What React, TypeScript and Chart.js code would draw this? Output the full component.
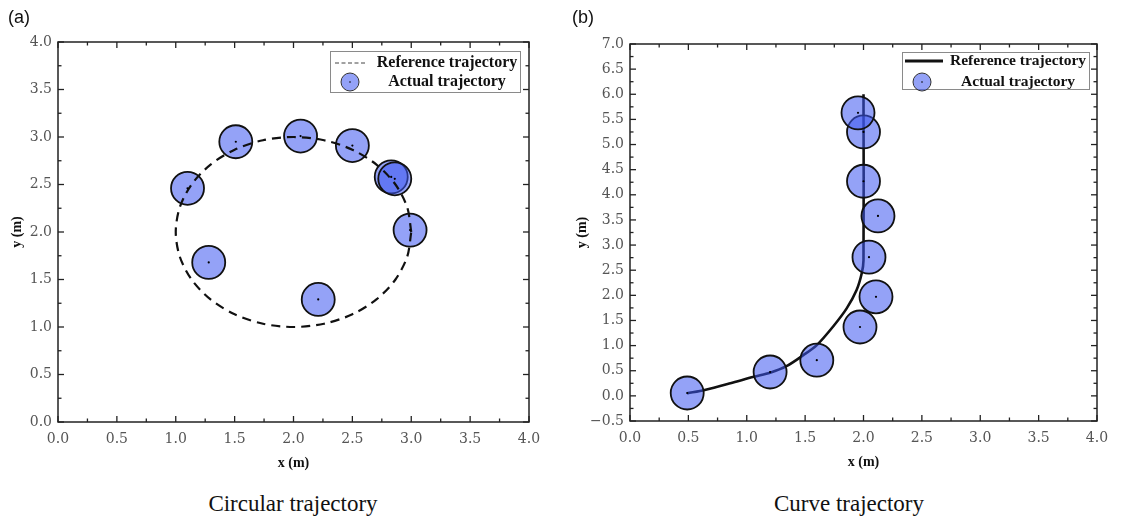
import React, { useEffect, useRef } from "react";
import { Chart, registerables } from "chart.js";
Chart.register(...registerables);
Chart.defaults.font.family = "'DejaVu Serif', 'Liberation Serif', serif";

// ---------- Data (a) Circular trajectory ----------
const circRefX = [3, 2.966, 2.866, 2.707, 2.5, 2.259, 2, 1.741, 1.5, 1.293, 1.134, 1.034, 1, 1.034, 1.134, 1.293, 1.5, 1.741, 2, 2.259, 2.5, 2.707, 2.866, 2.966, 3];
const circRefY = [2, 2.259, 2.5, 2.707, 2.866, 2.966, 3, 2.966, 2.866, 2.707, 2.5, 2.259, 2, 1.741, 1.5, 1.293, 1.134, 1.034, 1, 1.034, 1.134, 1.293, 1.5, 1.741, 2];
const circActX = [1.1, 1.51, 2.06, 2.5, 2.83, 2.86, 2.99, 1.28, 2.21];
const circActY = [2.46, 2.95, 3.01, 2.91, 2.58, 2.56, 2.02, 1.68, 1.29];
const circXTicks = [0, 0.5, 1, 1.5, 2, 2.5, 3, 3.5, 4];
const circYTicks = [0, 0.5, 1, 1.5, 2, 2.5, 3, 3.5, 4];

// ---------- Data (b) Curve trajectory ----------
const curveRefX = [0.49, 0.64, 0.86, 1.06, 1.2, 1.34, 1.485, 1.6, 1.74, 1.856, 1.94, 1.985, 2.0, 2.0];
const curveRefY = [0.05, 0.117, 0.25, 0.38, 0.46, 0.59, 0.81, 1.01, 1.38, 1.74, 2.1, 2.44, 2.7, 6.0];
const curveActX = [0.49, 1.2, 1.6, 1.97, 2.107, 2.047, 2.124, 2.0, 2.0, 1.953];
const curveActY = [0.057, 0.475, 0.71, 1.37, 1.97, 2.76, 3.58, 4.27, 5.25, 5.63];
const curveXTicks = [0, 0.5, 1, 1.5, 2, 2.5, 3, 3.5, 4];
const curveYTicks = [-0.5, 0, 0.5, 1, 1.5, 2, 2.5, 3, 3.5, 4, 4.5, 5, 5.5, 6, 6.5, 7];

const FILL = "rgba(60,85,240,0.55)";
const TICK_FONT = { family: "'DejaVu Serif', serif", size: 14 };
const fmt = (v: number) => Number(v).toFixed(1).replace("-", "\u2212");
const pts = (xs: number[], ys: number[]) => xs.map((x, i) => ({ x, y: ys[i] }));

type PanelCfg = {
  left: number;
  refX: number[]; refY: number[]; actX: number[]; actY: number[];
  xTicks: number[]; yTicks: number[];
  yMin: number; yMax: number;
  area: { left: number; right: number; top: number; bottom: number };
  dashed: boolean;
  lineOnTop: boolean;
  yTitleX: number;
  legend: { rightGap: number; topGap: number; w: number; h: number; r1: number; r2: number; l0: number; l1: number; tc: number; lw: number; fs: number };
};

function makePlugin(cfg: PanelCfg) {
  return {
    id: "decor",
    afterDraw(chart: any) {
      const { ctx, chartArea: a, scales } = chart;
      const x = scales.x, y = scales.y;
      ctx.save();
      ctx.strokeStyle = "#222";
      ctx.lineWidth = 1.5;
      ctx.setLineDash([]);
      ctx.strokeRect(a.left, a.top, a.right - a.left, a.bottom - a.top);
      const seg = (x0: number, y0: number, x1: number, y1: number) => {
        ctx.beginPath(); ctx.moveTo(x0, y0); ctx.lineTo(x1, y1); ctx.stroke();
      };
      ctx.lineWidth = 1.3;
      const xMin = cfg.xTicks[0], xMax = cfg.xTicks[cfg.xTicks.length - 1];
      for (let k = 0; xMin + k * 0.25 <= xMax + 1e-9; k++) {
        const v = xMin + k * 0.25;
        const len = k % 2 === 0 ? 6 : 3.5;
        const px = x.getPixelForValue(v);
        seg(px, a.bottom, px, a.bottom - len);
        seg(px, a.top, px, a.top + len);
      }
      const yMin = cfg.yTicks[0], yMax = cfg.yTicks[cfg.yTicks.length - 1];
      for (let k = 0; yMin + k * 0.25 <= yMax + 1e-9; k++) {
        const v = yMin + k * 0.25;
        const len = k % 2 === 0 ? 6 : 3.5;
        const py = y.getPixelForValue(v);
        seg(a.left, py, a.left + len, py);
        seg(a.right, py, a.right - len, py);
      }
      // axis titles
      ctx.fillStyle = "#111";
      ctx.font = "bold 14px 'Liberation Serif', serif";
      ctx.textAlign = "center";
      ctx.textBaseline = "middle";
      ctx.fillText("x (m)", (a.left + a.right) / 2, a.bottom + 41);
      ctx.save();
      ctx.translate(cfg.yTitleX, (a.top + a.bottom) / 2);
      ctx.rotate(-Math.PI / 2);
      ctx.fillText("y (m)", 0, 0);
      ctx.restore();
      // legend
      const L = cfg.legend;
      const bx = a.right - L.rightGap - L.w, by = a.top + L.topGap;
      ctx.fillStyle = "#fff";
      ctx.fillRect(bx, by, L.w, L.h);
      ctx.strokeStyle = "#8a8a8a";
      ctx.lineWidth = 1;
      ctx.strokeRect(bx + 0.5, by + 0.5, L.w, L.h);
      ctx.strokeStyle = cfg.dashed ? "#444" : "#111";
      ctx.lineWidth = L.lw;
      ctx.setLineDash(cfg.dashed ? [4, 2.5] : []);
      seg(bx + L.l0, by + L.r1, bx + L.l1, by + L.r1);
      ctx.setLineDash([]);
      ctx.beginPath();
      ctx.arc(bx + 20, by + L.r2, 9, 0, Math.PI * 2);
      ctx.fillStyle = FILL;
      ctx.fill();
      ctx.lineWidth = 1;
      ctx.strokeStyle = "#333";
      ctx.stroke();
      ctx.beginPath();
      ctx.arc(bx + 20, by + L.r2, 0.8, 0, Math.PI * 2);
      ctx.fillStyle = "#000";
      ctx.fill();
      ctx.fillStyle = "#111";
      ctx.font = `bold ${L.fs}px 'Liberation Serif', serif`;
      ctx.textAlign = "center";
      ctx.textBaseline = "middle";
      ctx.fillText("Reference trajectory", bx + L.tc, by + L.r1);
      ctx.fillText("Actual trajectory", bx + L.tc, by + L.r2);
      ctx.restore();
    },
  };
}

function Panel({ cfg }: { cfg: PanelCfg }) {
  const ref = useRef<HTMLCanvasElement>(null);
  useEffect(() => {
    const W = 561, H = 480;
    const a = cfg.area;
    const chart = new Chart(ref.current!, {
      type: "scatter",
      data: {
        datasets: [
          {
            label: "centers",
            data: pts(cfg.actX, cfg.actY),
            pointRadius: 1.1,
            pointBackgroundColor: "#000",
            pointBorderWidth: 0,
            showLine: false,
            order: 0,
          },
          {
            label: "Reference trajectory",
            data: pts(cfg.refX, cfg.refY),
            showLine: true,
            borderColor: "#111",
            borderWidth: cfg.dashed ? 2.2 : 2.6,
            borderDash: cfg.dashed ? [9, 6] : [],
            pointRadius: 0,
            tension: 0.3,
            fill: false,
            order: cfg.lineOnTop ? 1 : 3,
          },
          {
            label: "Actual trajectory",
            data: pts(cfg.actX, cfg.actY),
            showLine: false,
            pointRadius: 16.5,
            pointHoverRadius: 16.5,
            pointBackgroundColor: FILL,
            pointBorderColor: "#111",
            pointBorderWidth: 1.8,
            order: 2,
          },
        ] as any,
      },
      options: {
        animation: false,
        responsive: false,
        maintainAspectRatio: false,
        events: [],
        layout: { padding: { left: 0, top: a.top, right: W - a.right, bottom: 0 } },
        plugins: { legend: { display: false }, tooltip: { enabled: false } },
        scales: {
          x: {
            type: "linear",
            min: cfg.xTicks[0],
            max: cfg.xTicks[cfg.xTicks.length - 1],
            afterBuildTicks: (s: any) => { s.ticks = cfg.xTicks.map((v) => ({ value: v })); },
            afterFit: (s: any) => { s.height = H - a.bottom; },
            ticks: { callback: (v: any) => fmt(v), font: TICK_FONT, color: "#555", padding: 9, autoSkip: false, maxRotation: 0 },
            grid: { display: false, drawTicks: false },
            border: { display: false },
          },
          y: {
            type: "linear",
            min: cfg.yMin,
            max: cfg.yMax,
            afterBuildTicks: (s: any) => { s.ticks = cfg.yTicks.map((v) => ({ value: v })); },
            afterFit: (s: any) => { s.width = a.left; },
            ticks: { callback: (v: any) => fmt(v), font: TICK_FONT, color: "#555", padding: 6, autoSkip: false },
            grid: { display: false, drawTicks: false },
            border: { display: false },
          },
        },
      } as any,
      plugins: [makePlugin(cfg)],
    });
    return () => chart.destroy();
  }, []);
  return (
    <canvas
      ref={ref}
      width={561}
      height={480}
      style={{ position: "absolute", left: cfg.left, top: 0, width: 561, height: 480 }}
    />
  );
}

const leftCfg: PanelCfg = {
  left: 0,
  refX: circRefX, refY: circRefY, actX: circActX, actY: circActY,
  xTicks: circXTicks, yTicks: circYTicks, yMin: 0, yMax: 4,
  area: { left: 58, right: 529, top: 42, bottom: 422 },
  dashed: true,
  lineOnTop: true,
  yTitleX: 17,
  legend: { rightGap: 9, topGap: 9, w: 190, h: 41, r1: 12, r2: 31, l0: 5, l1: 37, tc: 117, lw: 1, fs: 16 },
};

const rightCfg: PanelCfg = {
  left: 561,
  refX: curveRefX, refY: curveRefY, actX: curveActX, actY: curveActY,
  xTicks: curveXTicks, yTicks: curveYTicks, yMin: -0.5, yMax: 7,
  area: { left: 69, right: 536, top: 44, bottom: 421 },
  dashed: false,
  lineOnTop: false,
  yTitleX: 21,
  legend: { rightGap: 8, topGap: 8, w: 187, h: 37, r1: 9, r2: 30, l0: 3, l1: 41, tc: 116, lw: 3, fs: 15.5 },
};

export default function App() {
  const caption: React.CSSProperties = {
    position: "absolute",
    top: 489,
    width: 400,
    textAlign: "center",
    fontFamily: "'Liberation Serif', serif",
    fontSize: 23,
    color: "#111",
    lineHeight: "30px",
  };
  const panelLabel: React.CSSProperties = {
    position: "absolute",
    top: 5,
    fontFamily: "'Liberation Sans', Arial, sans-serif",
    fontSize: 18,
    color: "#111",
    lineHeight: "24px",
  };
  return (
    <div style={{ position: "absolute", left: 0, top: 0, width: 1122, height: 520, background: "#fff", overflow: "hidden" }}>
      <Panel cfg={leftCfg} />
      <Panel cfg={rightCfg} />
      <div style={{ ...panelLabel, left: 8 }}>(a)</div>
      <div style={{ ...panelLabel, left: 572 }}>(b)</div>
      <div style={{ ...caption, left: 293 - 200 }}>Circular trajectory</div>
      <div style={{ ...caption, left: 849 - 200 }}>Curve trajectory</div>
    </div>
  );
}
